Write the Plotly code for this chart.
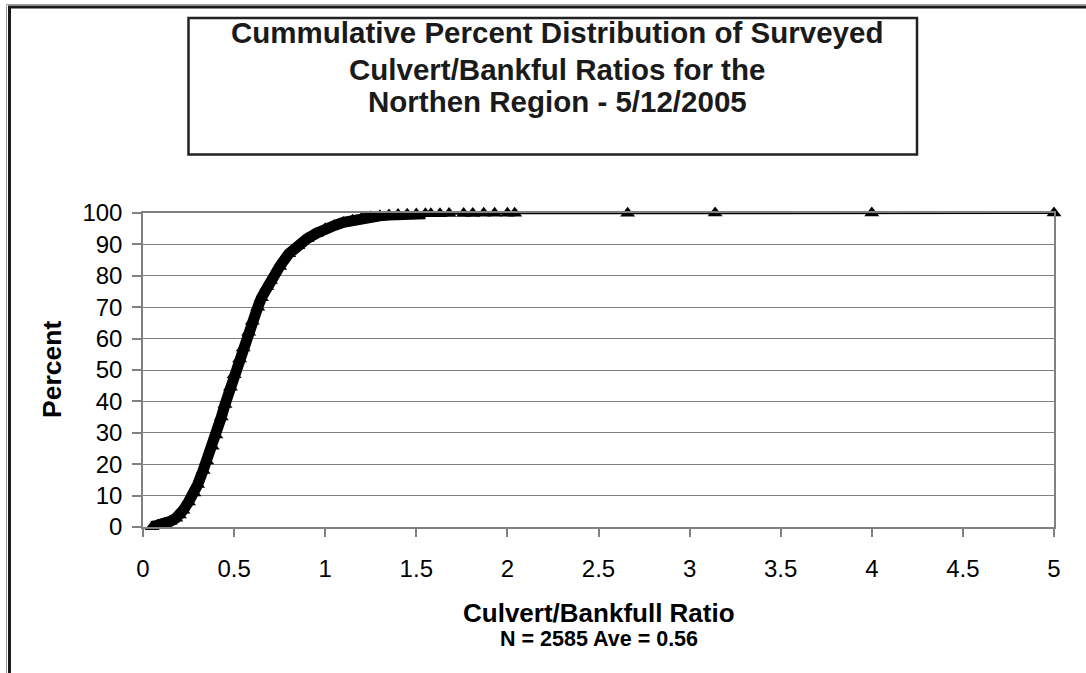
import plotly.graph_objects as go

# Dense part of the cumulative distribution
dense_ratio = [0.05, 0.08, 0.10, 0.12, 0.15, 0.18, 0.20, 0.22, 0.25, 0.28, 0.30,
               0.33, 0.35, 0.38, 0.40, 0.43, 0.45, 0.48, 0.50, 0.53, 0.55, 0.58,
               0.60, 0.63, 0.65, 0.68, 0.70, 0.75, 0.80, 0.85, 0.90, 0.95, 1.00,
               1.05, 1.10, 1.15, 1.20, 1.25, 1.30, 1.35, 1.40, 1.45, 1.50, 1.55]
dense_pct = [0.1, 0.5, 0.8, 1.2, 1.8, 2.8, 3.8, 5.3, 8.0, 10.8, 13.5,
             18.0, 21.0, 25.7, 29.3, 35.0, 39.0, 44.5, 48.5, 53.5, 57.0, 62.0,
             65.5, 70.0, 73.0, 76.5, 78.5, 83.0, 87.0, 89.6, 91.8, 93.5, 95.0,
             96.0, 97.0, 97.7, 98.3, 98.8, 99.1, 99.35, 99.5, 99.6, 99.7, 99.75]
# Sparse tail
tail_ratio = [1.58, 1.63, 1.68, 1.76, 1.81, 1.87, 1.93, 2.00, 2.04, 2.66, 3.14, 4.00, 5.00]
tail_pct = [99.78, 99.80, 99.82, 99.85, 99.87, 99.90, 99.92, 99.94, 99.96, 99.96, 99.97, 99.98, 100.0]

x_ticks = [0, 0.5, 1, 1.5, 2, 2.5, 3, 3.5, 4, 4.5, 5]
x_tick_text = ["0", "0.5", "1", "1.5", "2", "2.5", "3", "3.5", "4", "4.5", "5"]
y_ticks = [0, 10, 20, 30, 40, 50, 60, 70, 80, 90, 100]

title_lines = ["Cummulative Percent Distribution of Surveyed",
               "Culvert/Bankful Ratios for the",
               "Northen Region - 5/12/2005"]
x_title = "Culvert/Bankfull Ratio"
x_subtitle = "N = 2585 Ave = 0.56"
y_title = "Percent"

FONT = "Arial, Liberation Sans, sans-serif"
W, H = 1086, 673
ML, MR, MT, MB = 143, 32, 213, 146
PW, PH = W - ML - MR, H - MT - MB


def px(xp):
    return (xp - ML) / PW


def py(yp):
    return (H - MB - yp) / PH


all_ratio = dense_ratio + tail_ratio
all_pct = dense_pct + tail_pct

fig = go.Figure()
fig.add_trace(go.Scatter(x=dense_ratio, y=dense_pct, mode="lines",
                         line=dict(color="black", width=11),
                         hoverinfo="skip", showlegend=False, cliponaxis=False))
fig.add_trace(go.Scatter(x=all_ratio, y=all_pct, mode="lines+markers",
                         line=dict(color="black", width=2.2),
                         marker=dict(symbol="triangle-up", size=13, color="black",
                                     line=dict(width=0)),
                         showlegend=False, cliponaxis=False))

shapes = [
    # outer chart border (double line look)
    dict(type="rect", xref="paper", yref="paper", x0=px(6.5), x1=1.2, y0=-0.8, y1=py(4.5),
         line=dict(color="#9a9a9a", width=1), layer="below"),
    dict(type="rect", xref="paper", yref="paper", x0=px(9.5), x1=1.2, y0=-0.8, y1=py(7),
         line=dict(color="#1a1a1a", width=3), layer="below"),
    # title box
    dict(type="rect", xref="paper", yref="paper", x0=px(188.5), x1=px(917), y0=py(154.5), y1=py(18),
         line=dict(color="#222222", width=2.5)),
]

annotations = []
for txt, yp in zip(title_lines, [32, 69, 101.7]):
    annotations.append(dict(text="<b>%s</b>" % txt, xref="paper", yref="paper",
                            x=px(557), y=py(yp), xanchor="center", yanchor="middle",
                            showarrow=False, font=dict(family=FONT, size=29.5, color="#1a1a1a")))
annotations.append(dict(text="<b>%s</b>" % x_title, xref="paper", yref="paper",
                        x=0.5, y=py(613), xanchor="center", yanchor="middle",
                        showarrow=False, font=dict(family=FONT, size=26, color="black")))
annotations.append(dict(text="<b>%s</b>" % x_subtitle, xref="paper", yref="paper",
                        x=0.5, y=py(639), xanchor="center", yanchor="middle",
                        showarrow=False, font=dict(family=FONT, size=21.5, color="black")))
annotations.append(dict(text="<b>%s</b>" % y_title, xref="paper", yref="paper",
                        x=px(52), y=0.5, xanchor="center", yanchor="middle", textangle=-90,
                        showarrow=False, font=dict(family=FONT, size=26.5, color="black")))

fig.update_layout(
    width=W, height=H,
    margin=dict(l=ML, r=MR, t=MT, b=MB, pad=0),
    paper_bgcolor="white", plot_bgcolor="white",
    shapes=shapes, annotations=annotations,
    font=dict(family=FONT, color="black"),
    xaxis=dict(range=[0, 5], tickvals=x_ticks, ticktext=x_tick_text,
               showgrid=False, zeroline=False, showline=True, linecolor="#808080", linewidth=1.5,
               mirror=True, ticks="outside", ticklen=8, tickcolor="#808080", tickwidth=1.5,
               tickfont=dict(family=FONT, size=24, color="black"), ticklabelstandoff=11,
               fixedrange=True),
    yaxis=dict(range=[0, 100], tickvals=y_ticks,
               showgrid=True, gridcolor="#808080", gridwidth=1, zeroline=False,
               showline=True, linecolor="#808080", linewidth=1.5, mirror=True,
               ticks="outside", ticklen=9, tickcolor="#808080", tickwidth=1.5,
               tickfont=dict(family=FONT, size=24, color="black"), ticklabelstandoff=5,
               fixedrange=True),
)

fig.write_html("out.html", config={"displayModeBar": False},
               post_script="document.body.style.margin='0';document.body.style.overflow='hidden';")
